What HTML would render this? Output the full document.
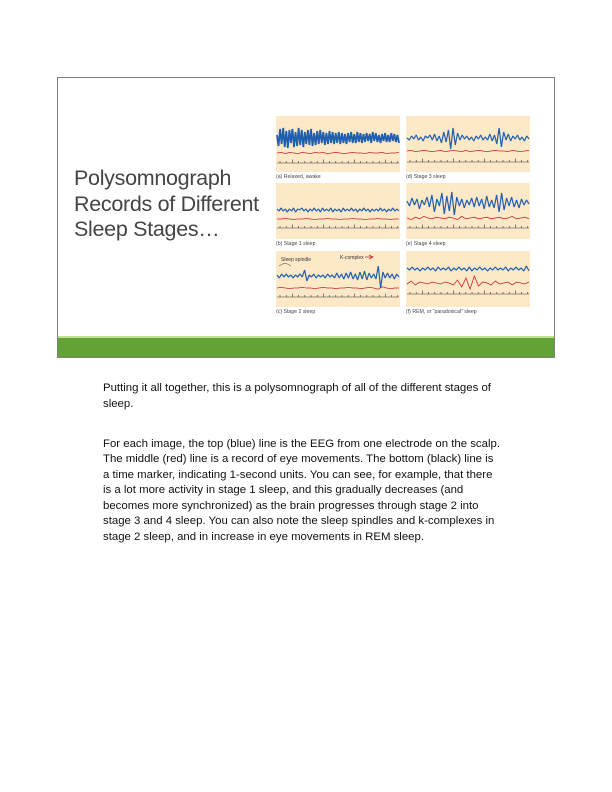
<!DOCTYPE html>
<html><head><meta charset="utf-8">
<style>
body{margin:0;width:612px;height:792px;background:#fff;position:relative;overflow:hidden;font-family:"Liberation Sans",sans-serif}
#slide{position:absolute;left:57px;top:77px;width:496px;height:279px;border:1px solid #7f7f7f;background:#fff}
#green{position:absolute;left:0;right:0;bottom:0;height:19px;background:#62a336;border-top:2px solid #bfe08f}
#title{position:absolute;left:16px;top:88px;font-size:21.5px;line-height:25.5px;color:#444;letter-spacing:-0.3px}
#body{position:absolute;left:103px;top:381px;width:460px;font-size:11.4px;line-height:15.5px;color:#111;white-space:nowrap}
#body p{margin:0 0 24.5px 0}
svg{position:absolute;left:0;top:0}
</style></head><body>
<div id="slide">
<div id="title">Polysomnograph<br>Records of Different<br>Sleep Stages…</div>
<div id="green"></div>
</div>
<div id="body">
<p>Putting it all together, this is a polysomnograph of all of the different stages of<br>sleep.</p>
<p>For each image, the top (blue) line is the EEG from one electrode on the scalp.<br>The middle (red) line is a record of eye movements. The bottom (black) line is<br>a time marker, indicating 1-second units. You can see, for example, that there<br>is a lot more activity in stage 1 sleep, and this gradually decreases (and<br>becomes more synchronized) as the brain progresses through stage 2 into<br>stage 3 and 4 sleep. You can also note the sleep spindles and k-complexes in<br>stage 2 sleep, and in increase in eye movements in REM sleep.</p>
</div>
<svg id="chart" width="612" height="792"></svg>
<script>
const panelLabels=["(a) Relaxed, awake","(b) Stage 1 sleep","(c) Stage 2 sleep","(d) Stage 3 sleep","(e) Stage 4 sleep","(f) REM, or \u201cparadoxical\u201d sleep"];
const blueA=[3,-8,9,-6,10,-9,7,-10,8,-5,9,-9,6,-8,10,-7,8,-9,6,-6,8,-7,9,-8,5,-7,7,-6,8,-5,6,-7,5,-6,7,-5,6,-6,5,-5,6,-6,5,-5,4,-6,5,-4,6,-5,4,-5,6,-4,5,-5,4,-4,5,-3,4,-5,6,-3,5,-4,3,-5,4,-3,5,-4,3,-4,5,-3,4,-4,3,-5];
const blueB=[1,-1,2,-1,1,-2,1,-1,2,-2,1,0,2,-1,1,-2,1,-1,2,-1,1,-2,2,-1,1,-1,2,-2,1,-1,1,-2,2,-1,1,-1,2,-1,1,-2,1,-1,2,-1,1,-2,1,-1,1,-1,2,-1,1,-2,1,-1,2,-1,1,-1];
const blueC=[1,-2,2,-1,2,-1,1,-2,1,-1,2,-1,6,-5,1,-1,2,-2,1,-1,1,-2,2,-1,1,-2,3,-2,2,-3,3,-2,4,-3,2,-4,4,-3,5,-4,3,-2,2,-3,10,-12,4,-2,3,-2,2,-3,2,-1];
const blueD=[0,-2,2,-1,3,-2,1,-3,2,0,3,-2,4,-3,2,-5,6,-4,8,-11,10,-7,5,-2,3,-1,2,-2,1,-3,2,-1,3,-2,1,-2,4,-3,3,-6,10,-9,6,-2,4,-3,2,-1,3,-2,1,-3,2,-1];
const blueE=[2,-3,5,-2,4,-6,3,-2,6,-4,8,-9,4,-3,10,-11,7,-8,11,-12,6,-3,4,-5,3,-2,5,-4,6,-3,4,-6,7,-4,3,-5,8,-9,10,-7,5,-3,6,-4,3,-5,4,-2,3,-1];
const blueF=[1,-1,2,-1,1,-2,1,-1,2,-1,1,-2,2,-1,1,-1,2,-2,1,-1,2,-1,1,-2,2,-2,1,-1,2,-1,1,-2,1,-1,2,-1,1,-1,2,-2,1,-1,2,-1,1,-2,3,-2];
const redA=[0,1,-1,1,0,-1,1,0,-1,1,0,1,-1,0,1,0,-1,0,1,0,0,-1,1,0,0,1,-1,0,0,1];
const redB=[0,0,1,0,-1,0,0,1,0,-1,0,0,1,0,0,-1,0,0,1,0,0,-1,0,0,1,0,0,-1,0,0];
const redC=[0,1,0,-1,0,0,1,0,0,-1,0,1,0,0,-1,0,0,1,0,0,-1,0,1,0,-2,2,0,-1,0,0];
const redD=[0,1,-1,0,1,0,-1,0,1,-1,0,1,0,-1,1,-1,0,1,0,-1,0,1,0,0,-1,1,0,-1,0,1];
const redE=[0,-2,1,-1,2,0,-1,1,0,-1,1,0,-2,2,-1,0,1,-1,0,1,-1,0,1,-1,0,2,-1,0,1,-1];
const redF=[-1,2,-2,1,0,-1,1,0,-1,1,0,-2,3,-4,5,-6,7,-3,1,0,-2,2,-1,0,1,-2,1,0,-1,1];
const blueSeries=[blueA,blueB,blueC,blueD,blueE,blueF];
const redSeries=[redA,redB,redC,redD,redE,redF];
const blueScale=[1,1,1,1,1,1];
const redScale=[0.6,0.5,0.6,0.6,0.8,1];
const NS='http://www.w3.org/2000/svg';
const svg=document.getElementById('chart');
const boxes=[[276,116],[276,183],[276,251],[406,116],[406,183],[406,251]];
const layout=[[22,37,47],[27,36,45],[25,37,46],[22,35,46],[20,35,45],[18,32,43]];
function mk(t,a){const e=document.createElementNS(NS,t);for(const k in a)e.setAttribute(k,a[k]);svg.appendChild(e);return e;}
function xS(i,n,x0){return x0+1+i*(122/(n-1));}
boxes.forEach((b,p)=>{
  const [x0,y0]=b;const L=layout[p];
  const bg=mk('rect',{x:x0,y:y0,width:124,height:56,fill:'#fde9c8'});
  
  
  const bs=blueSeries[p];
  let d=bs.map((v,i)=>(i?'L':'M')+xS(i,bs.length,x0).toFixed(1)+' '+(y0+L[0]-v*blueScale[p]).toFixed(1)).join('');
  const bl=mk('path',{d:d,fill:'none',stroke:'#1f5fae','stroke-width':p==0?1.8:1.2,'stroke-linejoin':'bevel'});
  
  
  const rs=redSeries[p];
  d=rs.map((v,i)=>(i?'L':'M')+xS(i,rs.length,x0).toFixed(1)+' '+(y0+L[1]-v*redScale[p]).toFixed(1)).join('');
  const rl=mk('path',{d:d,fill:'none',stroke:'#c8282c','stroke-width':0.8});
  
  
  const ax=mk('line',{x1:x0+1,x2:x0+123,y1:y0+L[2],y2:y0+L[2],stroke:'#333','stroke-width':0.6});
  
  
  for(let k=0;k<=19;k++){const tx=x0+4+k*6.2;const h=(k%5==2)?3.5:2;
    const t=mk('line',{x1:tx,x2:tx,y1:y0+L[2],y2:y0+L[2]-h,stroke:'#333','stroke-width':0.6});
    
    }
  const lb=mk('text',{x:x0,y:y0+62,'font-size':5.2,fill:'#444','font-family':'Liberation Sans, sans-serif'});
  lb.textContent=panelLabels[p];
  
  
});
const s1=mk('text',{x:281,y:261,'font-size':5,fill:'#333'});s1.textContent='Sleep spindle';


const s2=mk('text',{x:340,y:259,'font-size':5,fill:'#333'});s2.textContent='K-complex';


const ar=mk('path',{d:'M365 257 L372 257 M369 255 L373 257 L369 259',stroke:'#c8282c',fill:'none','stroke-width':0.8});


const br=mk('path',{d:'M279 266 Q285 261 291 266',stroke:'#333',fill:'none','stroke-width':0.5});


</script>
</body></html>
